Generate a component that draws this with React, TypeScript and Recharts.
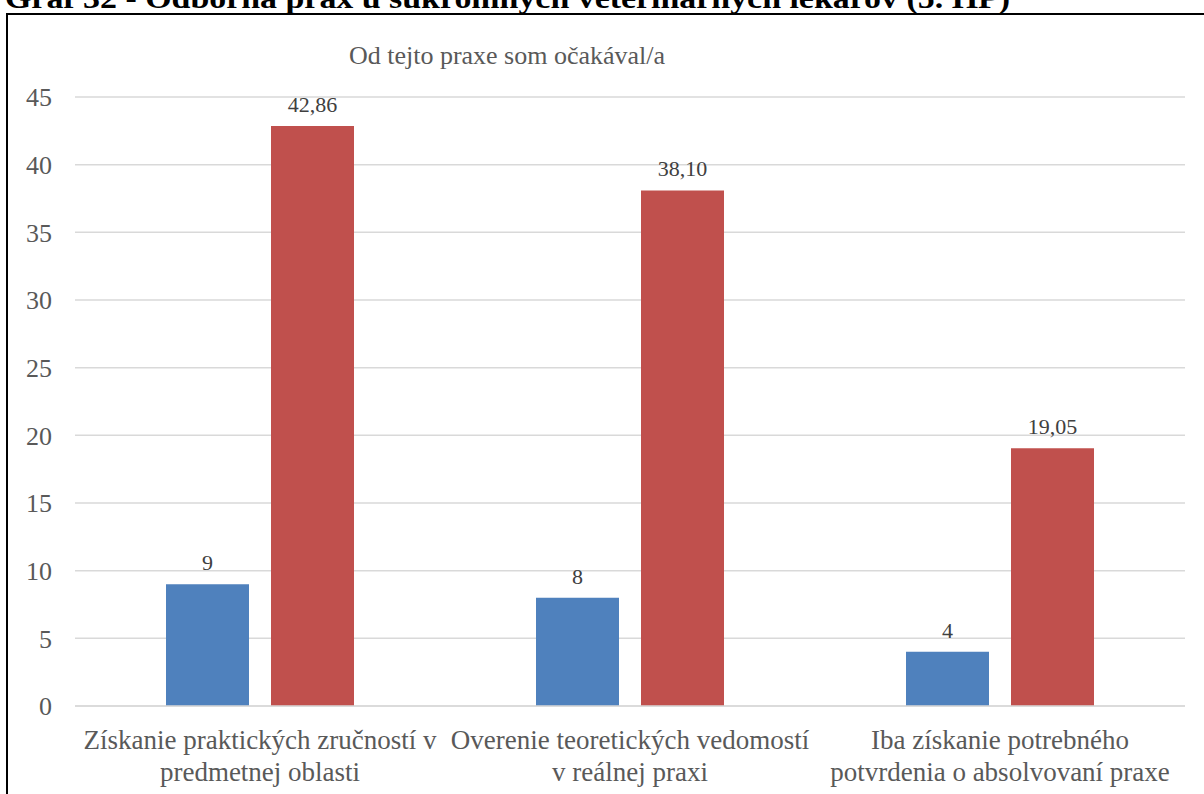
import React from "react";
import { BarChart, Bar, XAxis, YAxis, CartesianGrid, LabelList } from "recharts";

const categories = [
  "Získanie praktických zručností v\npredmetnej oblasti",
  "Overenie teoretických vedomostí\nv reálnej praxi",
  "Iba získanie potrebného\npotvrdenia o absolvovaní praxe",
];
const countValues = [9, 8, 4];
const percentValues = [42.86, 38.1, 19.05];
const yTicks = [0, 5, 10, 15, 20, 25, 30, 35, 40, 45];

const data = categories.map((name, i) => ({
  name,
  count: countValues[i],
  percent: percentValues[i],
}));

const FONT = "Liberation Serif, DejaVu Serif, serif";
const GRAY = "#595959";

function CategoryTick(props: any) {
  const { x, y, payload } = props;
  const lines = String(payload.value).split("\n");
  return (
    <g transform={`translate(${x},${y})`}>
      {lines.map((line: string, i: number) => (
        <text
          key={i}
          x={0}
          y={35 + i * 32}
          textAnchor="middle"
          fill={GRAY}
          style={{ fontSize: 27, fontFamily: FONT }}
        >
          {line}
        </text>
      ))}
    </g>
  );
}

export default function App() {
  return (
    <div
      style={{
        position: "fixed",
        left: 0,
        top: 0,
        width: 1204,
        height: 794,
        overflow: "hidden",
        background: "#fff",
        fontFamily: FONT,
      }}
    >
      <svg width={1204} height={30} style={{ position: "absolute", left: 0, top: 0 }}>
        <text
          x={5}
          y={8}
          fontWeight="bold"
          fill="#000"
          textLength={1005}
          lengthAdjust="spacingAndGlyphs"
          style={{ fontSize: 30, fontFamily: FONT }}
        >
          Graf 32 - Odborná prax u súkromných veterinárnych lekárov (5. HP)
        </text>
      </svg>
      <div
        style={{
          position: "absolute",
          left: 6,
          top: 13,
          width: 1400,
          height: 1000,
          border: "2px solid #000",
        }}
      />
      <div style={{ position: "absolute", left: 0, top: 0 }}>
        <BarChart
          width={1204}
          height={794}
          data={data}
          margin={{ top: 97, right: 19, bottom: 58, left: 0 }}
          barSize={83}
          barGap={22}
        >
          <text
            x={507}
            y={64}
            textAnchor="middle"
            fill={GRAY}
            style={{ fontSize: 26, fontFamily: FONT }}
          >
            Od tejto praxe som očakával/a
          </text>
          <CartesianGrid vertical={false} stroke="#d9d9d9" strokeWidth={1.5} />
          <XAxis
            dataKey="name"
            axisLine={{ stroke: "#d9d9d9", strokeWidth: 1.5 }}
            tickLine={false}
            tick={<CategoryTick />}
            interval={0}
          />
          <YAxis
            width={75}
            domain={[0, 45]}
            ticks={yTicks}
            axisLine={false}
            tickLine={false}
            tickSize={0}
            tickMargin={23}
            tick={{ fill: GRAY, fontSize: 26, fontFamily: FONT }}
          />
          <Bar dataKey="count" fill="#4F81BD" isAnimationActive={false}>
            <LabelList
              dataKey="count"
              position="top"
              offset={14}
              fill="#404040"
              style={{ fontSize: 22, fontFamily: FONT }}
              formatter={(v: any) => String(v)}
            />
          </Bar>
          <Bar dataKey="percent" fill="#C0504D" isAnimationActive={false}>
            <LabelList
              dataKey="percent"
              position="top"
              offset={14}
              fill="#404040"
              style={{ fontSize: 22, fontFamily: FONT }}
              formatter={(v: any) => Number(v).toFixed(2).replace(".", ",")}
            />
          </Bar>
        </BarChart>
      </div>
    </div>
  );
}
